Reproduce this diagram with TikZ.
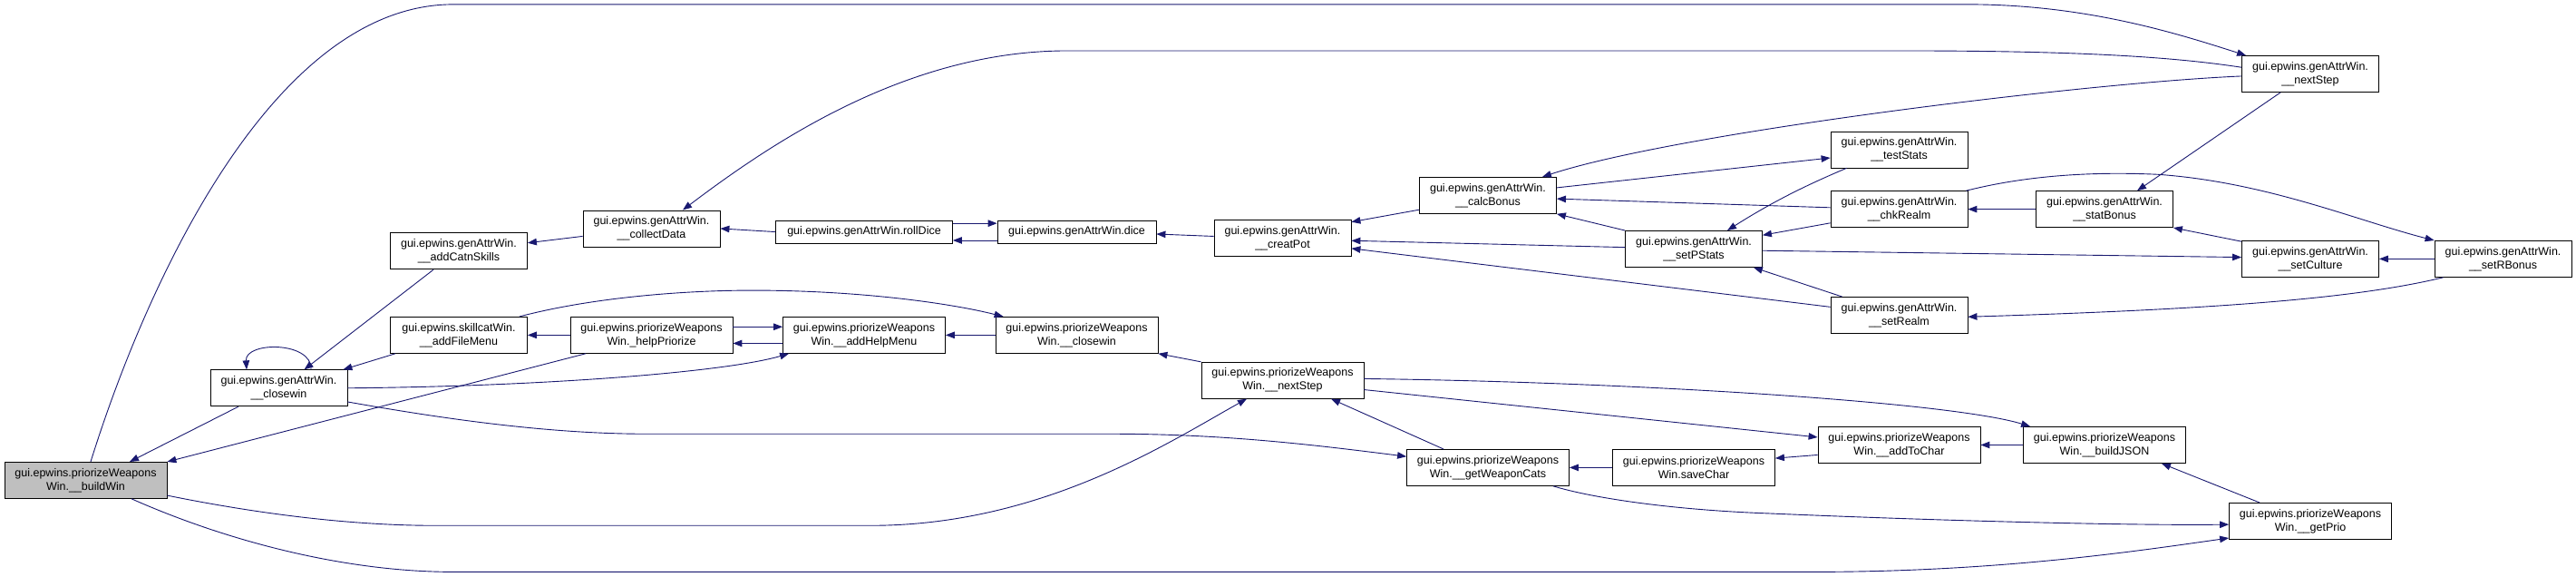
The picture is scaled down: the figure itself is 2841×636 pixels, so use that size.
\documentclass[tikz,border=0pt]{standalone}
\usepackage{fontspec}
\setmainfont{Liberation Sans}
\usetikzlibrary{arrows.meta}
\definecolor{edgecol}{HTML}{191970}
\definecolor{graybox}{HTML}{BFBFBF}
\begin{document}
\begin{tikzpicture}[x=1pt,y=-1.217pt,
  nd/.style={draw=black, line width=0.8pt, fill=white, inner sep=0pt, align=center, font=\fontsize{12.5}{15}\selectfont},
  gbox/.style={nd, minimum width=151pt, minimum height=40pt},
  pbox/.style={nd, minimum width=179pt, minimum height=40pt},
  lbox/.style={nd, minimum height=25pt},
  edge/.style={draw=edgecol, line width=0.9pt, -{Triangle[length=10pt,width=7.5pt]}, fill=none}]
\useasboundingbox (0pt,0pt) rectangle (2841pt,-636pt);
\node[pbox, fill=graybox] (n1) at (94.5,435) {gui.epwins.priorizeWeapons\\Win.\_\_buildWin};
\node[gbox] (n2) at (307.5,351.5) {gui.epwins.genAttrWin.\\\_\_closewin};
\node[gbox] (n3) at (506,227.5) {gui.epwins.genAttrWin.\\\_\_addCatnSkills};
\node[gbox] (n4) at (506,303.5) {gui.epwins.skillcatWin.\\\_\_addFileMenu};
\node[gbox] (n5) at (718.5,207) {gui.epwins.genAttrWin.\\\_\_collectData};
\node[pbox] (n6) at (718.5,303.5) {gui.epwins.priorizeWeapons\\Win.\_helpPriorize};
\node[lbox, minimum width=195pt] (n7) at (953,210) {gui.epwins.genAttrWin.rollDice};
\node[pbox] (n8) at (953,303.5) {gui.epwins.priorizeWeapons\\Win.\_\_addHelpMenu};
\node[lbox, minimum width=175pt] (n9) at (1187.5,210) {gui.epwins.genAttrWin.dice};
\node[pbox] (n10) at (1187.5,303.5) {gui.epwins.priorizeWeapons\\Win.\_\_closewin};
\node[gbox] (n11) at (1414.5,215.5) {gui.epwins.genAttrWin.\\\_\_creatPot};
\node[pbox] (n12) at (1414.5,344.5) {gui.epwins.priorizeWeapons\\Win.\_\_nextStep};
\node[gbox] (n13) at (1641,177) {gui.epwins.genAttrWin.\\\_\_calcBonus};
\node[pbox] (n14) at (1641,423.5) {gui.epwins.priorizeWeapons\\Win.\_\_getWeaponCats};
\node[gbox] (n15) at (1868,225.5) {gui.epwins.genAttrWin.\\\_\_setPStats};
\node[pbox] (n16) at (1868,423.5) {gui.epwins.priorizeWeapons\\Win.saveChar};
\node[gbox] (n17) at (2094.5,135.5) {gui.epwins.genAttrWin.\\\_\_testStats};
\node[gbox] (n18) at (2094.5,189.5) {gui.epwins.genAttrWin.\\\_\_chkRealm};
\node[gbox] (n19) at (2094.5,285.5) {gui.epwins.genAttrWin.\\\_\_setRealm};
\node[pbox] (n20) at (2094.5,403) {gui.epwins.priorizeWeapons\\Win.\_\_addToChar};
\node[gbox] (n21) at (2321,189.5) {gui.epwins.genAttrWin.\\\_\_statBonus};
\node[pbox] (n22) at (2321,403) {gui.epwins.priorizeWeapons\\Win.\_\_buildJSON};
\node[gbox] (n23) at (2548,67) {gui.epwins.genAttrWin.\\\_\_nextStep};
\node[gbox] (n24) at (2548,234.5) {gui.epwins.genAttrWin.\\\_\_setCulture};
\node[pbox] (n25) at (2548,472) {gui.epwins.priorizeWeapons\\Win.\_\_getPrio};
\node[gbox] (n26) at (2760.5,234.5) {gui.epwins.genAttrWin.\\\_\_setRBonus};

\draw[edge] ([xshift=-44.5pt]n2.south) -- ([xshift=48.5pt]n1.north);
\draw[edge] ([xshift=-72.5pt]n6.south) -- (n1.north east);
\draw[edge] ([xshift=5.5pt]n1.north) .. controls (160,260) and (300,4) .. (500,4) -- (2170,4) .. controls (2300,4) and (2400,30) .. ([xshift=5pt]n23.north west);
\draw[edge] ([xshift=35.5pt]n2.north) .. controls (345,309) and (270,309) .. ([xshift=-35.5pt]n2.north);
\draw[edge] ([xshift=-28pt]n3.south) -- ([xshift=28pt]n2.north);
\draw[edge] ([xshift=6pt]n4.south west) -- ([xshift=-5pt]n2.north east);
\draw[edge] (n2.east) .. controls (600,350) and (800,337) .. ([xshift=7pt]n8.south west);
\draw[edge] ([yshift=-15.2pt]n2.east) .. controls (480,378) and (600,393) .. (713,393) -- (1227,393) .. controls (1350,393) and (1450,403) .. ([yshift=12.2pt]n14.west);
\draw[edge] ([yshift=-8.5pt]n5.west) -- ([yshift=9.1pt]n3.east);
\draw[edge] (n7.west) -- (n5.east);
\draw[edge] ([yshift=7.3pt]n23.west) .. controls (2400,52) and (2300,46) .. (2100,46) -- (1177,46) .. controls (1000,46) and (850,130) .. ([xshift=34.5pt]n5.north);
\draw[edge] (n6.west) -- (n4.east);
\draw[edge] ([xshift=-9pt]n4.north east) .. controls (650,270) and (750,263) .. (830,263) .. controls (950,263) and (1050,275) .. ([xshift=9pt]n10.north west);
\draw[edge] ([yshift=9.1pt]n6.east) -- ([yshift=9.1pt]n8.west);
\draw[edge] ([yshift=-9.1pt]n8.west) -- ([yshift=-9.1pt]n6.east);
\draw[edge] (n10.west) -- (n8.east);
\draw[edge] ([yshift=9.4pt]n7.east) -- ([yshift=9.4pt]n9.west);
\draw[edge] ([yshift=-9.4pt]n9.west) -- ([yshift=-9.4pt]n7.east);
\draw[edge] ([yshift=1.8pt]n11.west) -- ([yshift=-2.4pt]n9.east);
\draw[edge] (n12.north west) -- (n10.south east);
\draw[edge] ([yshift=3.7pt]n1.south east) .. controls (300,468) and (400,476) .. (480,476) -- (960,476) .. controls (1150,476) and (1290,400) .. ([xshift=-39.5pt]n12.south);
\draw[edge] ([xshift=50.5pt]n1.south) .. controls (250,490) and (380,518) .. (500,518) -- (2000,518) .. controls (2200,518) and (2350,500) .. ([yshift=1.8pt]n25.south west);
\draw[edge] ([yshift=-15.8pt]n13.west) -- ([yshift=17.6pt]n11.east);
\draw[edge] ([yshift=1.8pt]n15.west) -- ([yshift=-3pt]n11.east);
\draw[edge] ([yshift=9.1pt]n19.west) -- ([yshift=-11.6pt]n11.east);
\draw[edge] ([yshift=-2.4pt]n23.west) .. controls (2300,75) and (1850,120) .. ([xshift=-16pt]n13.north east);
\draw[edge] ([yshift=8.5pt]n13.east) -- ([yshift=-9.1pt]n17.west);
\draw[edge] ([yshift=1.8pt]n18.west) -- ([yshift=-3.7pt]n13.east);
\draw[edge] (n15.north west) -- (n13.south east);
\draw[edge] ([xshift=18pt]n17.south west) .. controls (2000,165) and (1960,180) .. ([xshift=37pt]n15.north);
\draw[edge] ([yshift=-15.2pt]n18.west) -- ([yshift=15.2pt]n15.east);
\draw[edge] ([yshift=-1.8pt]n15.east) -- ([yshift=1.8pt]n24.west);
\draw[edge] ([xshift=13pt]n19.north west) -- ([xshift=-10pt]n15.south east);
\draw[edge] (n21.west) -- (n18.east);
\draw[edge] ([xshift=-2pt]n18.north east) .. controls (2230,160) and (2300,155) .. (2380,158) .. controls (2500,165) and (2600,200) .. (n26.north west);
\draw[edge] ([xshift=43pt]n23.south west) -- ([xshift=36pt]n21.north);
\draw[edge] ([yshift=-1.2pt]n24.north west) -- (n21.south east);
\draw[edge] (n26.west) -- (n24.east);
\draw[edge] ([xshift=10pt]n26.south west) .. controls (2600,270) and (2450,280) .. ([yshift=-1.8pt]n19.east);
\draw[edge] ([yshift=1.8pt]n12.east) .. controls (1800,346) and (2150,364) .. ([xshift=8pt]n22.north west);
\draw[edge] ([yshift=-10.3pt]n12.east) -- ([yshift=8.5pt]n20.west);
\draw[edge] ([xshift=-49pt]n14.north) -- ([xshift=53.5pt]n12.south);
\draw[edge] (n16.west) -- (n14.east);
\draw[edge] ([xshift=-18pt]n14.south east) .. controls (1760,452) and (1850,462) .. (1950,465) .. controls (2150,472) and (2350,476) .. ([yshift=-3.7pt]n25.west);
\draw[edge] ([yshift=-11pt]n20.west) -- ([yshift=10.3pt]n16.east);
\draw[edge] (n22.west) -- (n20.east);
\draw[edge] ([xshift=34pt]n25.north west) -- ([xshift=-27pt]n22.south east);
\end{tikzpicture}
\end{document}
